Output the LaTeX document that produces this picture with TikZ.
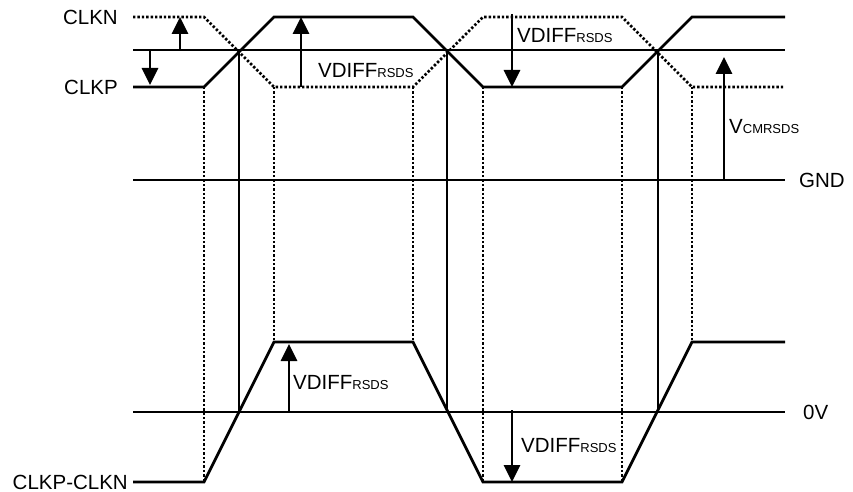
\documentclass[tikz,border=0pt]{standalone}
\usepackage{fontspec}
\setmainfont{Liberation Sans}
\usetikzlibrary{arrows.meta}
\newcommand{\sub}[1]{{\fontsize{13}{13}\selectfont #1}}
\begin{document}
\begin{tikzpicture}[x=1pt,y=-1pt,
  wave/.style={line width=2.8pt, line join=miter},
  dotl/.style={line width=2.8pt, dash pattern=on 2.4pt off 2pt},
  varrow/.style={line width=2.8pt, -{Triangle[width=16pt,length=17pt]}},
  lbl/.style={font=\fontsize{20.5}{24}\selectfont, inner sep=0pt}]
\useasboundingbox (0,0) rectangle (853,492);
% reference lines
\draw[wave] (133,50) coordinate (mL) -- (785,50) coordinate (mR);
\draw[wave] (133,180) coordinate (gL) -- (785,180) coordinate (gR);
\draw[wave] (133,412) coordinate (zL) -- (785,412) coordinate (zR);
% CLKP (solid)
\draw[wave] (133,87) -- (204,87) -- (274,17) -- (413,17) -- (483,87) -- (622,87) -- (692,17) -- (785,17);
% CLKN (dotted)
\draw[dotl] (133,17) -- (204,17) -- (274,87) -- (413,87) -- (483,17) -- (622,17) -- (692,87) -- (785,87);
% differential
\draw[wave] (133,482) -- (204,482) -- (274,342) -- (413,342) -- (483,482) -- (622,482) -- (692,342) -- (785,342);
% crossing verticals
\draw[wave] (239,50) -- (239,412);
\draw[wave] (447,50) -- (447,412);
\draw[wave] (658,50) -- (658,412);
% dotted verticals
\draw[dotl] (204,87) -- (204,482);
\draw[dotl] (274,87) -- (274,342);
\draw[dotl] (413,87) -- (413,342);
\draw[dotl] (483,87) -- (483,482);
\draw[dotl] (622,87) -- (622,482);
\draw[dotl] (692,87) -- (692,342);
% arrows
\coordinate (a1s) at (180,50); \coordinate (a1e) at (180,17);
\coordinate (a2s) at (150,50); \coordinate (a2e) at (150,85);
\coordinate (a3s) at (301,87); \coordinate (a3e) at (301,17);
\coordinate (a4s) at (512,14); \coordinate (a4e) at (512,87);
\coordinate (a5s) at (724,180); \coordinate (a5e) at (724,57);
\coordinate (a6s) at (289,412); \coordinate (a6e) at (289,344);
\coordinate (a7s) at (512,410); \coordinate (a7e) at (512,482);
\draw[varrow] (a1s) -- (a1e);
\draw[varrow] (a2s) -- (a2e);
\draw[varrow] (a3s) -- (a3e);
\draw[varrow] (a4s) -- (a4e);
\draw[varrow] (a5s) -- (a5e);
\draw[varrow] (a6s) -- (a6e);
\draw[varrow] (a7s) -- (a7e);
% labels
\node[lbl, anchor=east] (clkn) at (118,17) {CLKN};
\node[lbl, anchor=east] (clkp) at (118,87) {CLKP};
\node[lbl, anchor=east] (diff) at (128,482) {CLKP-CLKN};
\node[lbl, anchor=west] (gnd) at (799,180) {GND};
\node[lbl, anchor=west] (zv) at (803,412) {0V};
\node[lbl, anchor=base west] (vd1) at (318,78) {VDIFF\sub{RSDS}};
\node[lbl, anchor=base west] (vd2) at (517,43) {VDIFF\sub{RSDS}};
\node[lbl, anchor=base west] (vcm) at (729,133) {V\sub{CMRSDS}};
\node[lbl, anchor=base west] (vd3) at (293,389) {VDIFF\sub{RSDS}};
\node[lbl, anchor=base west] (vd4) at (521,452) {VDIFF\sub{RSDS}};
\end{tikzpicture}
\end{document}
